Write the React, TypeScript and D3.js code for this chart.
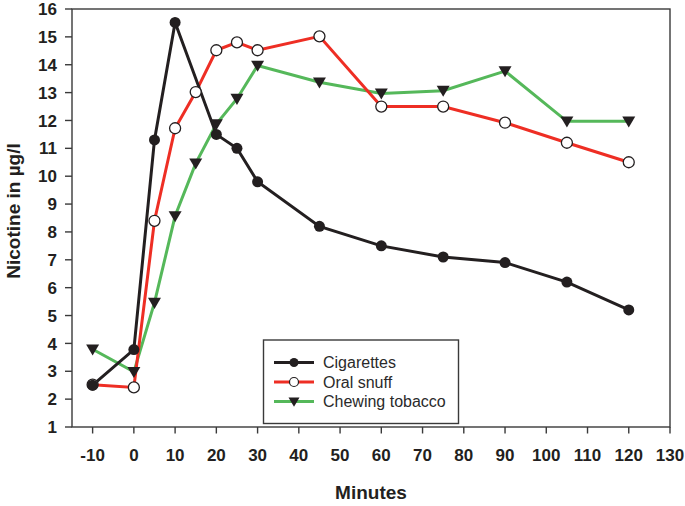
import React from "react";
import * as d3 from "d3";

const minutesCig = [-10, 0, 5, 10, 20, 25, 30, 45, 60, 75, 90, 105, 120];
const cigarettes = [2.5, 3.78, 11.3, 15.52, 11.5, 11.0, 9.8, 8.2, 7.5, 7.1, 6.9, 6.2, 5.2];

const minutesSnuff = [-10, 0, 5, 10, 15, 20, 25, 30, 45, 60, 75, 90, 105, 120];
const oralSnuff = [2.52, 2.42, 8.4, 11.72, 13.02, 14.52, 14.8, 14.52, 15.02, 12.5, 12.5, 11.92, 11.2, 10.5];

const minutesChew = [-10, 0, 5, 10, 15, 20, 25, 30, 45, 60, 75, 90, 105, 120];
const chewing = [3.79, 2.98, 5.46, 8.57, 10.46, 11.87, 12.78, 13.97, 13.37, 12.97, 13.07, 13.77, 11.97, 11.97];

const xTicks = [-10, 0, 10, 20, 30, 40, 50, 60, 70, 80, 90, 100, 110, 120, 130];
const yTicks = [1, 2, 3, 4, 5, 6, 7, 8, 9, 10, 11, 12, 13, 14, 15, 16];

const legendNames = ["Cigarettes", "Oral snuff", "Chewing tobacco"];

const W = 685;
const H = 506;
const left = 72;
const right = 670;
const top = 9;
const bottom = 427;

const BLACK = "#231f20";
const RED = "#ee2e24";
const GREEN = "#55b85a";
const FRAME = "#3a3a3a";

export default function App() {
  const x = d3.scaleLinear().domain([-15, 130]).range([left, right]);
  const y = d3.scaleLinear().domain([1, 16]).range([bottom, top]);
  const line = d3
    .line<[number, number]>()
    .x((d) => x(d[0]))
    .y((d) => y(d[1]));

  const cigPts = minutesCig.map((m, i) => [m, cigarettes[i]] as [number, number]);
  const snuffPts = minutesSnuff.map((m, i) => [m, oralSnuff[i]] as [number, number]);
  const chewPts = minutesChew.map((m, i) => [m, chewing[i]] as [number, number]);

  const tri = (cx: number, cy: number, s = 6.5) =>
    `M${cx - s},${cy - s * 0.75}L${cx + s},${cy - s * 0.75}L${cx},${cy + s * 0.95}Z`;

  const font = "'Liberation Sans', Arial, sans-serif";

  const legX = 263.5;
  const legY = 340;
  const legRows = [362.5, 382, 401.5];

  return (
    <svg
      width={W}
      height={H}
      style={{ position: "absolute", left: 0, top: 0, background: "#fff" }}
      fontFamily={font}
    >
      {/* frame */}
      <rect
        x={left}
        y={top}
        width={right - left}
        height={bottom - top}
        fill="none"
        stroke={FRAME}
        strokeWidth={1.4}
      />

      {/* y ticks */}
      {yTicks.map((t) => (
        <g key={"y" + t}>
          <line x1={left - 7} x2={left} y1={y(t)} y2={y(t)} stroke={FRAME} strokeWidth={1.4} />
          <text
            x={left - 15}
            y={y(t)}
            dy="0.36em"
            textAnchor="end"
            fontSize={17}
            fontWeight="bold"
            fill={BLACK}
          >
            {t}
          </text>
        </g>
      ))}

      {/* x ticks */}
      {xTicks.map((t) => (
        <g key={"x" + t}>
          <line x1={x(t)} x2={x(t)} y1={bottom} y2={bottom + 6.5} stroke={FRAME} strokeWidth={1.4} />
          <text
            x={x(t)}
            y={460.5}
            textAnchor="middle"
            fontSize={17}
            fontWeight="bold"
            fill={BLACK}
          >
            {t}
          </text>
        </g>
      ))}

      {/* axis titles */}
      <text x={371} y={498.5} textAnchor="middle" fontSize={19} fontWeight="bold" fill={BLACK}>
        Minutes
      </text>
      <text
        transform={`translate(20,211) rotate(-90)`}
        textAnchor="middle"
        fontSize={19}
        fontWeight="bold"
        fill={BLACK}
      >
        Nicotine in µg/l
      </text>

      {/* series lines */}
      <path d={line(chewPts) || ""} fill="none" stroke={GREEN} strokeWidth={3} />
      <path d={line(snuffPts) || ""} fill="none" stroke={RED} strokeWidth={3} />
      <path d={line(cigPts) || ""} fill="none" stroke={BLACK} strokeWidth={3} />

      {/* markers */}
      {chewPts.map((p, i) => (
        <path key={"t" + i} d={tri(x(p[0]), y(p[1]))} fill={BLACK} />
      ))}
      {snuffPts.map((p, i) => (
        <circle key={"o" + i} cx={x(p[0])} cy={y(p[1])} r={5.5} fill="#fff" stroke={BLACK} strokeWidth={1.3} />
      ))}
      {cigPts.map((p, i) => (
        <circle key={"c" + i} cx={x(p[0])} cy={y(p[1])} r={5.5} fill={BLACK} />
      ))}

      {/* legend */}
      <rect
        x={legX}
        y={legY}
        width={195}
        height={83.5}
        fill="#fff"
        stroke={FRAME}
        strokeWidth={1.4}
      />
      {legendNames.map((name, i) => {
        const ly = legRows[i];
        const color = [BLACK, RED, GREEN][i];
        return (
          <g key={name}>
            <line x1={274} x2={314} y1={ly} y2={ly} stroke={color} strokeWidth={3} />
            {i === 0 && <circle cx={294} cy={ly} r={4.5} fill={BLACK} />}
            {i === 1 && <circle cx={294} cy={ly} r={4.5} fill="#fff" stroke={BLACK} strokeWidth={1.2} />}
            {i === 2 && <path d={tri(294, ly, 5.5)} fill={BLACK} />}
            <text x={323} y={ly} dy="0.36em" fontSize={16} fill="#2a2a2a">
              {name}
            </text>
          </g>
        );
      })}
    </svg>
  );
}
